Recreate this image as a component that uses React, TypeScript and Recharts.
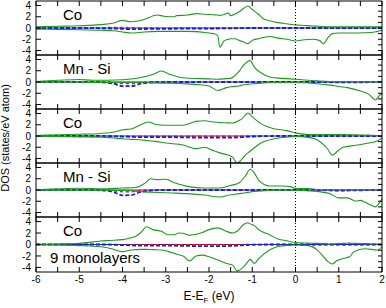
import { LineChart, Line, XAxis, YAxis, ReferenceLine } from "recharts";

const xTicks = [-6, -5.5, -5, -4.5, -4, -3.5, -3, -2.5, -2, -1.5, -1, -0.5, 0, 0.5, 1, 1.5, 2];
const yTicks = [-4, -2, 0, 2, 4];
const yMinorTicks = [-4, -3, -2, -1, 0, 1, 2, 3, 4];
const panelNames = ["Co", "Mn - Si", "Co", "Mn - Si", "Co"];

// green DOS, spin up / spin down
const p1X = [-6, -5.5, -5, -4.5, -4.2, -4, -3.8, -3.5, -3.2, -3.05, -2.8, -2.75, -2.5, -2.3, -2.1, -1.9, -1.8, -1.75, -1.65, -1.55, -1.5, -1.4, -1.3, -1.2, -1.1, -1.0, -0.85, -0.75, -0.6, -0.4, -0.2, 0, 0.2, 0.4, 0.55, 0.65, 0.75, 0.85, 1.0, 1.3, 1.6, 1.8, 2.0];
const p1Up = [0.2, 0.3, 0.4, 0.6, 0.9, 1.35, 1.1, 1.5, 2.3, 2.1, 2.0, 2.2, 2.3, 2.55, 2.45, 2.35, 2.3, 2.25, 2.4, 2.65, 2.2, 2.5, 2.9, 3.5, 3.9, 3.3, 2.4, 1.7, 1.3, 0.95, 0.75, 0.55, 0.45, 0.35, 0.3, 0.25, 0.2, 0.2, 0.2, 0.2, 0.2, 0.2, 0.2];
const p1Dn = [-0.2, -0.25, -0.3, -0.4, -0.5, -0.7, -0.9, -0.7, -0.6, -0.6, -0.6, -0.6, -0.6, -0.65, -0.8, -1.0, -1.3, -3.4, -2.3, -2.0, -1.9, -1.9, -2.2, -2.5, -2.8, -2.2, -1.9, -1.7, -1.5, -1.8, -2.0, -2.3, -2.1, -2.0, -2.2, -2.8, -1.7, -1.0, -0.9, -0.9, -0.85, -0.75, -0.4];

const p2X = [-6, -5.5, -5, -4.7, -4, -3.6, -3.3, -3.1, -2.9, -2.6, -2.2, -2.0, -1.8, -1.6, -1.5, -1.3, -1.2, -1.05, -0.95, -0.8, -0.6, -0.3, 0, 0.5, 0.8, 1.0, 1.2, 1.5, 1.7, 1.85, 1.95, 2.0];
const p2Up = [0.1, 0.3, 0.45, 0.3, 0.4, 0.75, 1.35, 1.95, 1.35, 0.75, 0.6, 0.55, 0.5, 0.6, 0.65, 1.95, 3.0, 3.8, 2.6, 1.65, 0.9, 0.65, 0.5, 0.2, 0.1, 0.05, 0.05, 0.05, 0, 0, 0, 0];
const p2Dn = [-0.05, -0.05, -0.05, -0.1, -0.1, -0.1, -0.15, -0.2, -0.2, -0.3, -0.5, -0.7, -1.5, -1.0, -0.85, -0.7, -0.5, -0.35, -0.3, -0.2, -0.1, -0.1, -0.1, -0.3, -0.55, -0.8, -1.0, -1.6, -2.2, -3.2, -2.3, -2.1];

const p3X = [-6, -5.5, -5, -4.5, -4.2, -4, -3.8, -3.55, -3.4, -3.25, -3, -2.6, -2.3, -2.1, -1.9, -1.75, -1.6, -1.45, -1.35, -1.25, -1.15, -1.1, -1.0, -0.8, -0.5, -0.2, 0, 0.3, 0.5, 0.65, 0.75, 0.85, 0.95, 1.1, 1.4, 1.7, 1.9, 2.0];
const p3Up = [0.1, 0.2, 0.3, 0.45, 0.7, 1.1, 1.25, 2.1, 2.5, 2.1, 1.9, 1.9, 2.6, 2.7, 2.5, 2.4, 2.35, 2.3, 2.6, 3.0, 3.8, 4.1, 3.4, 2.2, 1.3, 0.95, 0.55, 0.25, 0.25, 0.25, 0.25, 0.25, 0.25, 0.25, 0.2, 0.15, 0.1, 0.1];
const p3Dn = [-0.05, -0.1, -0.15, -0.2, -0.35, -0.5, -0.6, -0.7, -0.85, -0.95, -1.25, -1.6, -2.25, -2.0, -2.6, -3.0, -3.3, -3.8, -4.8, -4.2, -3.3, -3.0, -2.4, -1.25, -0.5, -0.2, -0.1, -0.25, -0.65, -1.55, -2.4, -3.4, -2.85, -2.0, -1.65, -1.25, -0.85, -0.35];

const p4X = [-6, -5.5, -5, -4.5, -4, -3.7, -3.5, -3.35, -3.2, -3, -2.8, -2.5, -2.1, -1.75, -1.5, -1.3, -1.15, -1.05, -0.95, -0.85, -0.6, -0.3, -0.1, 0, 0.3, 0.5, 0.8, 1.0, 1.2, 1.4, 1.5, 1.6, 1.75, 1.85, 1.95, 2.0];
const p4Up = [0.05, 0.2, 0.3, 0.2, 0.35, 0.45, 1.1, 2.0, 1.85, 1.9, 1.3, 0.65, 0.35, 0.35, 0.8, 1.3, 2.6, 3.7, 3.0, 1.7, 0.7, 0.7, 0.55, 0.25, 0.25, 0.1, 0.05, 0.05, 0.05, 0.05, 0.05, 0.05, 0.05, 0.05, 0.05, 0.05];
const p4Dn = [-0.05, -0.05, -0.05, -0.05, -0.1, -0.2, -0.35, -0.4, -0.45, -0.5, -0.55, -0.65, -0.9, -1.25, -0.85, -0.65, -0.5, -0.35, -0.25, -0.2, -0.1, -0.05, -0.05, -0.05, -0.15, -0.25, -0.65, -1.4, -1.4, -2.0, -1.85, -2.15, -2.7, -3.0, -2.15, -1.55];

const p5X = [-6, -5.5, -5, -4.5, -4.3, -4, -3.8, -3.7, -3.55, -3.45, -3.3, -3.1, -2.95, -2.8, -2.7, -2.6, -2.45, -2.3, -2.15, -2.0, -1.8, -1.6, -1.45, -1.35, -1.2, -1.1, -1.05, -0.95, -0.85, -0.6, -0.4, -0.2, 0, 0.3, 0.5, 0.65, 0.75, 0.85, 0.95, 1.1, 1.25, 1.35, 1.6, 1.9, 2.0];
const p5Up = [0.05, 0.1, 0.2, 0.6, 0.7, 0.85, 1.2, 1.4, 2.3, 3.1, 2.6, 2.3, 1.7, 1.7, 2.0, 1.95, 1.6, 1.8, 2.1, 2.6, 2.9, 2.3, 2.0, 2.3, 3.5, 3.8, 3.6, 3.3, 2.6, 1.7, 0.95, 0.65, 0.35, 0.25, 0.2, 0.15, 0.1, 0.1, 0.15, 0.2, 0.25, 0.2, 0.15, 0.1, 0.1];
const p5Dn = [-0.05, -0.1, -0.2, -0.4, -0.65, -1.25, -0.95, -0.9, -0.85, -0.85, -0.9, -0.95, -1.2, -1.55, -1.8, -2.0, -2.85, -2.0, -1.85, -2.15, -2.7, -3.3, -3.6, -4.6, -3.9, -3.0, -2.6, -3.3, -2.45, -0.95, -0.35, -0.15, -0.1, -0.2, -0.95, -2.15, -3.0, -3.4, -2.85, -2.45, -2.15, -1.25, -0.75, -0.95, -0.35];

// dashed red / blue curves near zero
const projX = [-6, -5.5, -5, -4.5, -4.2, -4, -3.8, -3.6, -3.3, -3, -2.5, -2, -1.5, -1, -0.5, 0, 0.5, 1, 1.5, 2];
const p1Red = [0, 0, 0.05, 0.05, 0.1, 0.1, 0.05, 0.05, 0, 0, 0, 0, 0, 0, 0, 0, 0, 0, 0, 0];
const p1Blue = [0, 0, 0, -0.05, -0.1, -0.15, -0.2, -0.2, -0.15, -0.15, -0.1, -0.1, -0.05, 0, 0, 0, 0, 0, 0, 0];
const p2Red = [0, 0, 0, 0, -0.1, -0.25, -0.25, -0.1, 0, 0, 0, 0, 0, 0, 0, 0, 0, 0, 0, 0];
const p2Blue = [0, 0, 0, -0.05, -0.3, -0.75, -0.75, -0.35, -0.05, 0, 0, 0, 0, 0, 0, 0, 0, -0.05, -0.05, 0];
const p3Red = [0, 0, 0, 0, 0, -0.05, -0.05, -0.05, -0.05, -0.05, -0.05, -0.05, -0.05, 0, 0, 0, 0, 0, 0, 0];
const p3Blue = [0, 0, 0, 0, -0.05, -0.1, -0.15, -0.2, -0.2, -0.2, -0.25, -0.3, -0.3, -0.1, 0, 0, 0, 0, 0, 0];
const p4Red = [0, 0, 0, 0, -0.15, -0.3, -0.3, -0.1, 0, 0, 0, 0, 0, 0, 0, 0, 0, -0.1, 0, 0];
const p4Blue = [0, 0, 0, -0.05, -0.4, -0.95, -0.9, -0.4, -0.1, 0, 0, 0, 0, 0, 0, 0, 0, -0.1, -0.05, 0];
const p5Red = [0, 0, 0, 0, 0, -0.05, -0.05, -0.05, -0.05, -0.05, -0.05, -0.05, -0.05, 0, 0, 0, 0, 0, 0, 0];
const p5Blue = [0, 0, 0, 0, -0.05, -0.1, -0.15, -0.2, -0.2, -0.2, -0.25, -0.3, -0.25, -0.05, 0, 0, 0, 0, 0, 0];

const panels = [
  { xs: p1X, up: p1Up, dn: p1Dn, red: p1Red, blue: p1Blue },
  { xs: p2X, up: p2Up, dn: p2Dn, red: p2Red, blue: p2Blue },
  { xs: p3X, up: p3Up, dn: p3Dn, red: p3Red, blue: p3Blue },
  { xs: p4X, up: p4Up, dn: p4Dn, red: p4Red, blue: p4Blue },
  { xs: p5X, up: p5Up, dn: p5Dn, red: p5Red, blue: p5Blue },
];

const GREEN = "#1c9a1c";
const PANEL_STEP = 54;

interface PanelProps {
  xs: number[];
  up: number[];
  dn: number[];
  red: number[];
  blue: number[];
  last: boolean;
}

function Panel({ xs, up, dn, red, blue, last }: PanelProps) {
  const rows = xs.map((x, i) => ({ x, up: up[i], dn: dn[i] }));
  const redRows = projX.map((x, i) => ({ x, v: red[i] }));
  const blueRows = projX.map((x, i) => ({ x, v: blue[i] }));
  const axisStyle = { stroke: "#000", strokeWidth: 1 };

  // axes get 1px of room (a zero-sized axis is not drawn), ticks point inward
  return (
    <LineChart
      width={386}
      height={last ? 86 : 56}
      data={rows}
      margin={{ top: 0, right: 3, bottom: 0, left: 0 }}
    >
      <XAxis
        xAxisId="b"
        type="number"
        dataKey="x"
        domain={[-6, 2]}
        ticks={xTicks}
        interval={0}
        height={last ? 30 : 1}
        tickSize={-5}
        tickMargin={9}
        axisLine={axisStyle}
        tickLine={axisStyle}
        tick={{ fontSize: 10, fill: "#000" }}
        tickFormatter={(v: number) => (last && Number.isInteger(v) ? String(v) : "")}
      />
      <XAxis
        xAxisId="t"
        orientation="top"
        type="number"
        dataKey="x"
        domain={[-6, 2]}
        ticks={xTicks}
        interval={0}
        height={1}
        tickSize={-5}
        axisLine={axisStyle}
        tickLine={axisStyle}
        tickFormatter={() => ""}
      />
      <YAxis
        yAxisId="l"
        type="number"
        domain={[-4.8, 4.8]}
        ticks={yTicks}
        interval={0}
        width={36}
        tickSize={-5}
        tickMargin={10}
        allowDataOverflow
        axisLine={axisStyle}
        tickLine={axisStyle}
        tick={{ fontSize: 10, fill: "#000" }}
      />
      <YAxis
        yAxisId="r"
        orientation="right"
        type="number"
        domain={[-4.8, 4.8]}
        ticks={yMinorTicks}
        interval={0}
        width={1}
        tickSize={-4}
        allowDataOverflow
        axisLine={axisStyle}
        tickLine={axisStyle}
        tickFormatter={() => ""}
      />
      <ReferenceLine xAxisId="b" yAxisId="l" y={0} stroke="#000" strokeWidth={0.8} />
      <Line
        xAxisId="b"
        yAxisId="l"
        data={redRows}
        dataKey="v"
        type="monotone"
        stroke="#ff1a1a"
        strokeWidth={1.5}
        strokeDasharray="3 3"
        dot={false}
        isAnimationActive={false}
      />
      <Line
        xAxisId="b"
        yAxisId="l"
        data={blueRows}
        dataKey="v"
        type="monotone"
        stroke="#1a1aff"
        strokeWidth={1.8}
        strokeDasharray="4 2"
        dot={false}
        isAnimationActive={false}
      />
      <Line
        xAxisId="b"
        yAxisId="l"
        dataKey="up"
        type="monotone"
        stroke={GREEN}
        strokeWidth={1.1}
        dot={false}
        isAnimationActive={false}
      />
      <Line
        xAxisId="b"
        yAxisId="l"
        dataKey="dn"
        type="monotone"
        stroke={GREEN}
        strokeWidth={1.1}
        dot={false}
        isAnimationActive={false}
      />
      <ReferenceLine xAxisId="b" yAxisId="l" x={0} stroke="#000" strokeWidth={1} strokeDasharray="1 2" />
    </LineChart>
  );
}

export default function App() {
  return (
    <div
      style={{
        position: "absolute",
        left: 0,
        top: 0,
        width: 386,
        height: 308,
        background: "#fff",
        fontFamily: "'Liberation Sans', Arial, sans-serif",
      }}
    >
      {panels.map((p, i) => (
        <div key={i} style={{ position: "absolute", left: 0, top: i * PANEL_STEP }}>
          <Panel {...p} last={i === panels.length - 1} />
        </div>
      ))}
      <svg
        width={386}
        height={308}
        style={{ position: "absolute", left: 0, top: 0, pointerEvents: "none" }}
      >
        {panelNames.map((name, i) => (
          <text key={i} x={63} y={19.5 + i * PANEL_STEP} fontSize={15} fill="#000">
            {name}
          </text>
        ))}
        <text x={50} y={263} fontSize={15} fill="#000">
          9 monolayers
        </text>
        <text
          x={9}
          y={138}
          fontSize={11}
          fill="#000"
          textAnchor="middle"
          transform="rotate(-90 9 138)"
        >
          DOS (states/eV atom)
        </text>
        <text x={209} y={300} fontSize={12} fill="#000" textAnchor="middle">
          E-E
          <tspan fontSize={8} dy={3}>F</tspan>
          <tspan dy={-3}> (eV)</tspan>
        </text>
      </svg>
    </div>
  );
}
